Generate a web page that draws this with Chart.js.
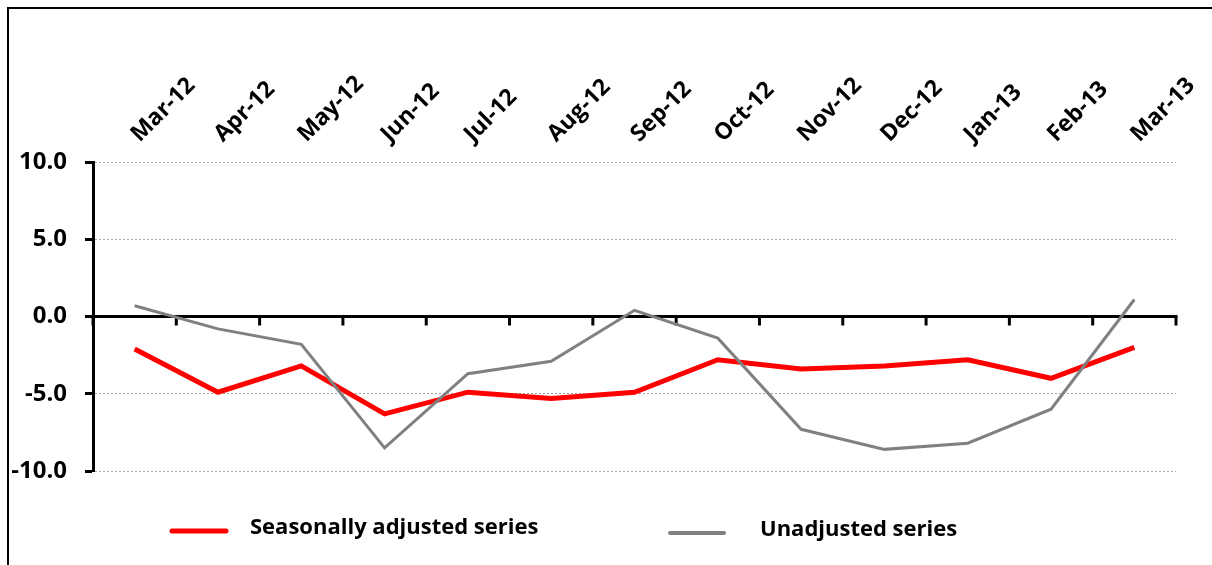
<!DOCTYPE html>
<html><head><meta charset="utf-8">
<script src="https://cdn.jsdelivr.net/npm/chart.js@4/dist/chart.umd.min.js"></script>
<style>
html,body{margin:0;padding:0;background:#fff;overflow:hidden;}
#wrap{position:relative;width:1212px;height:565px;overflow:hidden;}
#frame{position:absolute;left:7px;top:7px;width:1300px;height:700px;border-top:2px solid #000;border-left:2px solid #000;pointer-events:none;}
canvas{position:absolute;left:0;top:0;}
</style></head><body>
<div id="wrap"><canvas id="c" width="1212" height="565"></canvas><div id="frame"></div></div>
<script>
const categories = ['Mar-12','Apr-12','May-12','Jun-12','Jul-12','Aug-12','Sep-12','Oct-12','Nov-12','Dec-12','Jan-13','Feb-13','Mar-13'];
const seasonallyAdjusted = [-2.1, -4.9, -3.2, -6.3, -4.9, -5.3, -4.9, -2.8, -3.4, -3.2, -2.8, -4.0, -2.0];
const unadjusted = [0.7, -0.8, -1.8, -8.5, -3.7, -2.9, 0.4, -1.4, -7.3, -8.6, -8.2, -6.0, 1.1];
const seriesNames = ['Seasonally adjusted series', 'Unadjusted series'];
const yMin = -10, yMax = 10, yStep = 5;

const FONT = '"Open Sans", "DejaVu Sans", sans-serif';

const customDraw = {
  id: 'customDraw',
  beforeDatasetsDraw(chart) {
    const ctx = chart.ctx, xs = chart.scales.x, ys = chart.scales.y, ca = chart.chartArea;
    const y0 = ys.getPixelForValue(0);
    ctx.save();
    ctx.strokeStyle = '#000';
    ctx.lineWidth = 3;
    ctx.beginPath();
    ctx.moveTo(ca.left, y0);
    ctx.lineTo(ca.right + 1.5, y0);
    ctx.stroke();
    const half = (xs.getPixelForValue(1) - xs.getPixelForValue(0)) / 2;
    for (let i = 0; i <= categories.length; i++) {
      const x = xs.getPixelForValue(0) - half + i * 2 * half;
      ctx.beginPath();
      ctx.moveTo(x, y0);
      ctx.lineTo(x, y0 + 9);
      ctx.stroke();
    }
    ctx.restore();
  },
  afterDraw(chart) {
    const ctx = chart.ctx;
    const items = [
      {ds: chart.data.datasets[1], x: 172, y: 531, w: 5, tx: 250},
      {ds: chart.data.datasets[0], x: 670, y: 533, w: 4, tx: 760}
    ];
    ctx.save();
    items.forEach(it => {
      ctx.strokeStyle = it.ds.borderColor;
      ctx.lineWidth = it.w;
      ctx.lineCap = 'round';
      ctx.beginPath();
      ctx.moveTo(it.x, it.y);
      ctx.lineTo(it.x + 54, it.y);
      ctx.stroke();
      ctx.fillStyle = '#000';
      ctx.font = 'bold 22px ' + FONT;
      ctx.textBaseline = 'middle';
      ctx.textAlign = 'left';
      ctx.fillText(it.ds.label, it.tx, it.y - 3);
    });
    ctx.restore();
  }
};

new Chart(document.getElementById('c'), {
  type: 'line',
  data: {
    labels: categories,
    datasets: [
      {label: seriesNames[1], data: unadjusted, borderColor: '#808080', borderWidth: 3, pointRadius: 0, tension: 0, fill: false, order: 0},
      {label: seriesNames[0], data: seasonallyAdjusted, borderColor: '#ff0000', borderWidth: 5, pointRadius: 0, tension: 0, fill: false, order: 1}
    ]
  },
  options: {
    responsive: false,
    animation: false,
    devicePixelRatio: 1,
    layout: {padding: {left: 0, top: 0, right: 36, bottom: 94}},
    plugins: {legend: {display: false}, tooltip: {enabled: false}},
    scales: {
      x: {
        type: 'category',
        position: 'top',
        offset: true,
        grid: {display: false},
        border: {display: false},
        ticks: {
          autoSkip: false, minRotation: 45, maxRotation: 45, padding: 6, labelOffset: 20,
          color: '#000', font: {family: FONT, weight: 'bold', size: 23}
        },
        afterFit(s) { s.height = 162; }
      },
      y: {
        min: yMin, max: yMax,
        ticks: {
          stepSize: yStep, padding: 18, color: '#000',
          font: {family: FONT, weight: 'bold', size: 24},
          callback: v => Number(v).toFixed(1)
        },
        grid: {
          color: c => c.tick && c.tick.value === 0 ? 'rgba(0,0,0,0)' : '#a6a6a6',
          lineWidth: 1, drawTicks: true, tickLength: 8, tickColor: '#000', tickWidth: 3
        },
        border: {display: true, color: '#000', width: 3, dash: [2, 2]},
        afterFit(s) { s.width = 93; }
      }
    }
  },
  plugins: [customDraw]
});
</script>
</body></html>
